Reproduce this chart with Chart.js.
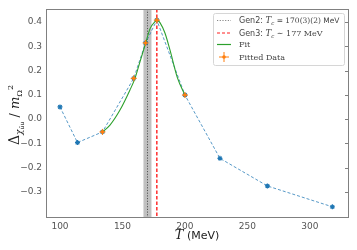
<!DOCTYPE html>
<html>
<head>
<meta charset="utf-8">
<script src="https://cdn.jsdelivr.net/npm/chart.js@4.4.0/dist/chart.umd.min.js"></script>
<style>
  html, body { margin: 0; padding: 0; background: #fff; }
  #wrap { width: 357px; height: 250px; }
</style>
</head>
<body>
<div id="wrap"><canvas id="chart" width="357" height="250"></canvas></div>
<script>
// measured data (T in MeV)
const temps = [100, 114, 134, 159, 168.5, 177.5, 200, 228, 266, 318];
const delta = [0.05, -0.097, -0.053, 0.168, 0.314, 0.408, 0.099, -0.162, -0.276, -0.362];
const fittedIdx = [2, 3, 4, 5, 6];

// fit curve
const fitT = [134, 140, 148, 156, 160, 164, 168.5, 172, 176, 178, 180, 184, 188, 194, 200];
const fitY = [-0.053, -0.025, 0.037, 0.12, 0.168, 0.236, 0.312, 0.372, 0.402, 0.408, 0.398, 0.355, 0.285, 0.17, 0.099];

const xTicks = [100, 150, 200, 250, 300];
const yTicks = [-0.3, -0.2, -0.1, 0.0, 0.1, 0.2, 0.3, 0.4];

const gen2Tc = 170, gen2Err = 3.2;
const gen3Tc = 177.5;

const SANS = '"DejaVu Sans", sans-serif';
const SERIF = '"DejaVu Serif", serif';
const RED = 'rgb(255,30,30)';

function runs(ctx, parts, x, y, align) {
  let w = 0;
  parts.forEach(p => { ctx.font = p.font; w += ctx.measureText(p.t).width; });
  let cx = align === 'center' ? x - w / 2 : x;
  ctx.textBaseline = 'alphabetic';
  ctx.textAlign = 'left';
  parts.forEach(p => {
    ctx.font = p.font;
    ctx.fillText(p.t, cx, y + (p.dy || 0));
    cx += ctx.measureText(p.t).width;
  });
}

const decor = {
  id: 'decor',
  beforeDatasetsDraw(chart) {
    const { ctx, chartArea: a, scales: { x } } = chart;
    ctx.save();
    // Gen2 band
    ctx.fillStyle = 'rgba(150,150,150,0.6)';
    const b0 = x.getPixelForValue(gen2Tc - gen2Err), b1 = x.getPixelForValue(gen2Tc + gen2Err);
    ctx.fillRect(b0, a.top, b1 - b0, a.bottom - a.top);
    ctx.lineWidth = 1;
    ctx.strokeStyle = '#555';
    ctx.setLineDash([1.2, 1.5]);
    const g = Math.round(x.getPixelForValue(gen2Tc)) + 0.5;
    ctx.beginPath(); ctx.moveTo(g, a.top); ctx.lineTo(g, a.bottom); ctx.stroke();
    ctx.restore();
    // Gen3 line
    ctx.save();
    ctx.lineWidth = 1.4;
    ctx.strokeStyle = RED;
    ctx.setLineDash([3.5, 2]);
    const r = x.getPixelForValue(gen3Tc);
    ctx.beginPath(); ctx.moveTo(r, a.top); ctx.lineTo(r, a.bottom); ctx.stroke();
    ctx.restore();
  },
  afterDatasetsDraw(chart) {
    // small error-bar crosses on the fitted points
    const { ctx } = chart;
    const meta = chart.getDatasetMeta(2);
    ctx.save();
    ctx.strokeStyle = '#ff7f0e';
    ctx.lineWidth = 1;
    meta.data.forEach(p => {
      ctx.beginPath();
      ctx.moveTo(p.x - 3, p.y); ctx.lineTo(p.x + 3, p.y);
      ctx.moveTo(p.x, p.y - 3); ctx.lineTo(p.x, p.y + 3);
      ctx.stroke();
    });
    ctx.restore();
  },
  afterDraw(chart) {
    const { ctx, chartArea: a, scales: { y } } = chart;
    ctx.save();
    // frame
    ctx.strokeStyle = '#808080';
    ctx.lineWidth = 1;
    ctx.setLineDash([]);
    ctx.strokeRect(Math.round(a.left) + 0.5, Math.round(a.top) + 0.5, Math.round(a.right - a.left), Math.round(a.bottom - a.top));
    // right inward ticks
    yTicks.forEach(v => {
      const py = Math.round(y.getPixelForValue(v)) + 0.5;
      ctx.beginPath(); ctx.moveTo(a.right - 3, py); ctx.lineTo(a.right, py); ctx.stroke();
    });

    // legend
    const lx = 213, ly = 13, lw = 131, lh = 52;
    ctx.fillStyle = 'rgba(255,255,255,0.85)';
    ctx.strokeStyle = '#d6d6d6';
    ctx.beginPath();
    ctx.roundRect(lx + 0.5, ly + 0.5, lw, lh, 2);
    ctx.fill(); ctx.stroke();
    const hx0 = 217, hx1 = 231, tx = 239;
    const rows = [20, 32.5, 44, 56.5];
    ctx.lineWidth = 1;
    ctx.strokeStyle = '#888'; ctx.setLineDash([1.2, 1.5]);
    ctx.beginPath(); ctx.moveTo(hx0, rows[0] + 0.5); ctx.lineTo(hx1, rows[0] + 0.5); ctx.stroke();
    ctx.strokeStyle = RED; ctx.setLineDash([3, 2]);
    ctx.beginPath(); ctx.moveTo(hx0, rows[1] + 0.5); ctx.lineTo(hx1, rows[1] + 0.5); ctx.stroke();
    ctx.strokeStyle = '#2ca02c'; ctx.setLineDash([]); ctx.lineWidth = 1.2;
    ctx.beginPath(); ctx.moveTo(hx0, rows[2] + 0.5); ctx.lineTo(hx1, rows[2] + 0.5); ctx.stroke();
    ctx.strokeStyle = '#ff7f0e'; ctx.fillStyle = '#ff7f0e'; ctx.lineWidth = 1;
    const mx = (hx0 + hx1) / 2;
    ctx.beginPath(); ctx.moveTo(mx - 5, rows[3] + 0.5); ctx.lineTo(mx + 5, rows[3] + 0.5);
    ctx.moveTo(mx, rows[3] - 4.5); ctx.lineTo(mx, rows[3] + 5.5); ctx.stroke();
    ctx.beginPath(); ctx.arc(mx, rows[3] + 0.5, 1.8, 0, Math.PI * 2); ctx.fill();

    ctx.fillStyle = '#444';
    const f8 = '8px ' + SANS, s8 = '8px ' + SERIF, s7 = '7.5px ' + SERIF, i8 = 'italic 8.5px ' + SERIF, i5 = 'italic 5.5px ' + SERIF;
    runs(ctx, [{ t: 'Gen2: ', font: f8 }, { t: 'T', font: i8 }, { t: 'c', font: i5, dy: 2 },
      { t: ' = 170(3)(2) ', font: s7 }, { t: 'MeV', font: '7.5px ' + SANS }], tx, rows[0] + 3);
    runs(ctx, [{ t: 'Gen3: ', font: f8 }, { t: 'T', font: i8 }, { t: 'c', font: i5, dy: 2 },
      { t: ' ∼ 177 MeV', font: s8 }], tx, rows[1] + 3);
    runs(ctx, [{ t: 'Fit', font: s8 }], tx, rows[2] + 3);
    runs(ctx, [{ t: 'Fitted Data', font: s8 }], tx, rows[3] + 3);

    // x title
    ctx.fillStyle = '#222';
    runs(ctx, [{ t: 'T', font: 'italic 13px ' + SERIF }, { t: ' (MeV)', font: '11px ' + SANS }], 197, 239, 'center');

    // y title, rotated
    ctx.translate(19, 115);
    ctx.rotate(-Math.PI / 2);
    runs(ctx, [
      { t: 'Δ', font: '14px ' + SERIF },
      { t: 'χ', font: 'italic 9px ' + SERIF, dy: 3 },
      { t: 'ūu', font: 'italic 6px ' + SERIF, dy: 5 },
      { t: ' / ', font: '13px ' + SERIF },
      { t: 'm', font: 'italic 13px ' + SERIF },
      { t: 'Ω', font: '8px ' + SERIF, dy: 3 },
      { t: '2', font: '8px ' + SERIF, dy: -6 }
    ], 0, 0, 'center');
    ctx.restore();
  }
};

const tickFmt = v => (v < 0 ? '\u2212' : '') + Math.abs(v).toFixed(1);

new Chart(document.getElementById('chart'), {
  type: 'line',
  data: {
    datasets: [
      {
        label: 'Data',
        data: temps.map((t, i) => ({ x: t, y: delta[i] })),
        borderColor: 'rgba(31,119,180,0.75)',
        borderWidth: 1,
        borderDash: [3, 2],
        pointStyle: 'star',
        pointRadius: 2.5,
        pointBorderColor: '#1f77b4',
        pointBackgroundColor: '#1f77b4',
        pointBorderWidth: 1.2,
        tension: 0,
        order: 3
      },
      {
        label: 'Fit',
        data: fitT.map((t, i) => ({ x: t, y: fitY[i] })),
        borderColor: '#2ca02c',
        borderWidth: 1.1,
        pointRadius: 0,
        cubicInterpolationMode: 'monotone',
        order: 2
      },
      {
        label: 'Fitted Data',
        data: fittedIdx.map(i => ({ x: temps[i], y: delta[i] })),
        showLine: false,
        pointStyle: 'circle',
        pointRadius: 1.8,
        pointBorderWidth: 0,
        pointBackgroundColor: '#ff7f0e',
        pointBorderColor: '#ff7f0e',
        order: 1
      }
    ]
  },
  options: {
    responsive: false,
    animation: false,
    events: [],
    layout: { padding: { left: 0, right: 9, top: 9, bottom: 0 } },
    plugins: { legend: { display: false }, tooltip: { enabled: false } },
    scales: {
      x: {
        type: 'linear',
        min: 88.8,
        max: 330.5,
        grid: { display: false, drawTicks: true, tickLength: 3, color: '#808080' },
        border: { color: '#808080' },
        afterBuildTicks: s => { s.ticks = xTicks.map(v => ({ value: v })); },
        afterFit: s => { s.height = 33; },
        ticks: { color: '#555', font: { family: SANS, size: 9 }, padding: 1, maxRotation: 0, callback: v => String(v) }
      },
      y: {
        min: -0.404,
        max: 0.454,
        grid: { display: false, drawTicks: true, tickLength: 3, color: '#808080' },
        border: { color: '#808080' },
        afterBuildTicks: s => { s.ticks = yTicks.map(v => ({ value: v })); },
        afterFit: s => { s.width = 46; },
        ticks: { color: '#555', font: { family: SANS, size: 9 }, padding: 1, callback: tickFmt }
      }
    }
  },
  plugins: [decor]
});
</script>
</body>
</html>
